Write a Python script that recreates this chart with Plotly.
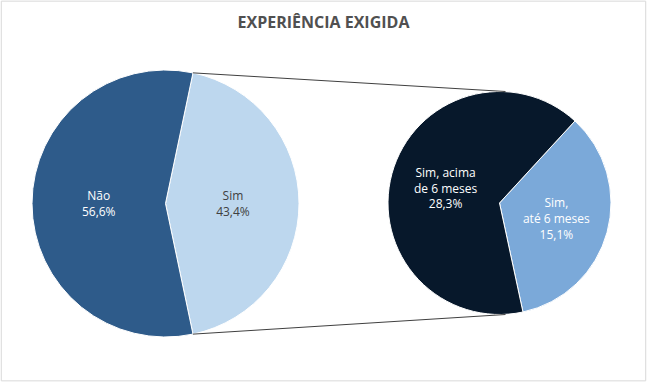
import math
import plotly.graph_objects as go

# ---- data ----
main_labels = ["Sim", "Não"]
main_values = [43.4, 56.6]
sub_labels = ["Sim,<br>até 6 meses", "Sim, acima<br>de 6 meses"]
sub_values = [15.1, 28.3]
title_text = "EXPERIÊNCIA EXIGIDA"

W, H = 647, 382
# pie geometry in pixels
L_CX, L_CY, L_R = 165.5, 203.5, 133.5
R_CX, R_CY, R_R = 499.5, 203.0, 111.5

def dom(cx, cy, r):
    return dict(x=[(cx - r) / W, (cx + r) / W], y=[1 - (cy + r) / H, 1 - (cy - r) / H])

sim_frac = main_values[0] / sum(main_values)
left_rot = 90 - sim_frac * 360 / 2

fig = go.Figure()
fig.add_trace(go.Pie(
    labels=main_labels, values=main_values, text=main_labels,
    texttemplate="%{text}<br>%{value:.1f}%", textinfo="text",
    sort=False, direction="clockwise", rotation=left_rot,
    domain=dom(L_CX, L_CY, L_R),
    marker=dict(colors=["#BDD7EE", "#2E5B8A"], line=dict(color="white", width=1)),
    textfont=dict(color=["#404040", "white"], size=12, family="Open Sans"),
    textposition="inside", insidetextorientation="horizontal",
    hoverinfo="label+value", showlegend=False,
))
fig.add_trace(go.Pie(
    labels=sub_labels, values=sub_values, text=sub_labels,
    texttemplate="%{text}<br>%{value:.1f}%", textinfo="text",
    sort=False, direction="clockwise", rotation=42.6,
    domain=dom(R_CX, R_CY, R_R),
    marker=dict(colors=["#7BA9D9", "#07182B"], line=dict(color="white", width=1)),
    textfont=dict(color=["white", "white"], size=12, family="Open Sans"),
    textposition="inside", insidetextorientation="horizontal",
    hoverinfo="label+value", showlegend=False,
))

# connector lines, computed from slice boundary angles
a1 = math.radians(left_rot)
a2 = math.radians(left_rot + sim_frac * 360)
p1 = (L_CX + L_R * math.sin(a1), L_CY - L_R * math.cos(a1))
p2 = (L_CX + L_R * math.sin(a2), L_CY - L_R * math.cos(a2))
q1 = (R_CX + 6, R_CY - R_R)
q2 = (R_CX + 6, R_CY + R_R)
shapes = []
for (x0, y0), (x1, y1) in [(p1, q1), (p2, q2)]:
    shapes.append(dict(type="line", xref="paper", yref="paper",
                       x0=x0 / W, y0=1 - y0 / H, x1=x1 / W, y1=1 - y1 / H,
                       line=dict(color="#404040", width=1)))
shapes.append(dict(type="rect", xref="paper", yref="paper", x0=0.002, y0=0.003, x1=0.998, y1=0.997,
                   line=dict(color="#D9D9D9", width=1)))

fig.update_layout(
    width=W, height=H, margin=dict(l=0, r=0, t=0, b=0),
    paper_bgcolor="white", plot_bgcolor="white",
    separators=",.",
    title=dict(text="<b>" + title_text + "</b>", x=0.5, xanchor="center", y=1 - 22 / H, yanchor="middle",
               font=dict(family="Open Sans", size=16, color="#505050")),
    shapes=shapes,
)
fig.write_html("out.html", config={"displayModeBar": False},
               post_script="document.body.style.margin='0';document.body.style.overflow='hidden';")
